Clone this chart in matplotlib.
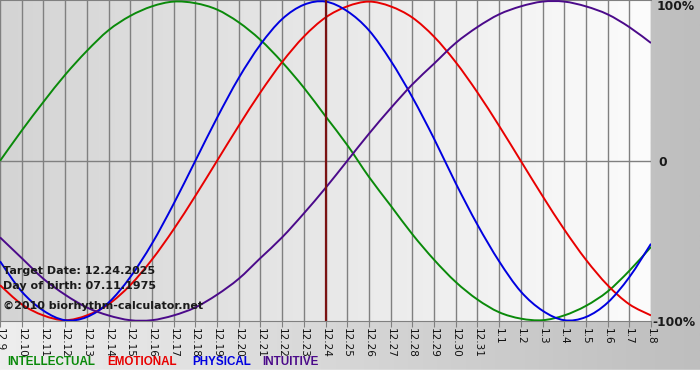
import numpy as np
import matplotlib.pyplot as plt
from matplotlib.colors import LinearSegmentedColormap
from matplotlib.path import Path
from matplotlib.patches import PathPatch, Rectangle

# day labels (month.day)
days = ['12.9', '12.10', '12.11', '12.12', '12.13', '12.14', '12.15', '12.16',
        '12.17', '12.18', '12.19', '12.20', '12.21', '12.22', '12.23', '12.24',
        '12.25', '12.26', '12.27', '12.28', '12.29', '12.30', '12.31',
        '1.1', '1.2', '1.3', '1.4', '1.5', '1.6', '1.7', '1.8']

# values, -1..1
intellectual = [0.00, 0.19, 0.37, 0.54, 0.69, 0.82, 0.91, 0.97, 1.00, 0.99, 0.95,
                0.87, 0.76, 0.62, 0.46, 0.28, 0.10, -0.10, -0.28, -0.46, -0.62,
                -0.76, -0.87, -0.95, -0.99, -1.00, -0.97, -0.91, -0.82, -0.69, -0.54]
emotional = [-0.78, -0.90, -0.97, -1.00, -0.97, -0.90, -0.78, -0.62, -0.43, -0.22, 0.00,
             0.22, 0.43, 0.62, 0.78, 0.90, 0.97, 1.00, 0.97, 0.90, 0.78,
             0.62, 0.43, 0.22, 0.00, -0.22, -0.43, -0.62, -0.78, -0.90, -0.97]
physical = [-0.63, -0.82, -0.94, -1.00, -0.98, -0.89, -0.73, -0.52, -0.27, 0.00, 0.27,
            0.52, 0.73, 0.89, 0.98, 1.00, 0.94, 0.82, 0.63, 0.40, 0.14,
            -0.14, -0.40, -0.63, -0.82, -0.94, -1.00, -0.98, -0.89, -0.73, -0.52]
intuitive = [-0.48, -0.61, -0.74, -0.84, -0.92, -0.97, -1.00, -1.00, -0.97, -0.92, -0.84,
             -0.74, -0.61, -0.48, -0.33, -0.17, 0.00, 0.17, 0.33, 0.48, 0.61,
             0.74, 0.84, 0.92, 0.97, 1.00, 1.00, 0.97, 0.92, 0.84, 0.74]
target_idx = 15

green = '#0a8a0a'
red = '#e80000'
blue = '#0000e0'
purple = '#4b0a8a'


def smooth_path(xs, ys):
    # catmull-rom through the daily points, drawn as bezier segments
    pts = np.column_stack([xs, ys]).astype(float)
    ext = np.vstack([pts[0], pts, pts[-1]])
    verts = [pts[0]]
    codes = [Path.MOVETO]
    for i in range(len(pts) - 1):
        p0, p1, p2, p3 = ext[i], ext[i + 1], ext[i + 2], ext[i + 3]
        verts += [p1 + (p2 - p0) / 6, p2 - (p3 - p1) / 6, p2]
        codes += [Path.CURVE4] * 3
    return Path(verts, codes)


fig = plt.figure(figsize=(7, 3.8), dpi=100)
W, H = 700, 380

# outer gradient background
bg = fig.add_axes([0, 0, 1, 1], zorder=0)
bg.axis('off')
grad = np.linspace(0, 1, 256).reshape(1, -1)
bg.imshow(grad, aspect='auto', extent=[0, 1, 0, 1],
          cmap=LinearSegmentedColormap.from_list('o', ['#eeeeee', '#bebebe']))
bg.add_patch(Rectangle((0, 0), 1, 10 / H, color='white', zorder=2))
bg.set_xlim(0, 1)
bg.set_ylim(0, 1)

ax = fig.add_axes([0, 1 - 321 / H, 651 / W, 321 / H], zorder=1)
ax.imshow(grad, aspect='auto', extent=[0, 1, 0, 1], transform=ax.transAxes, zorder=0,
          cmap=LinearSegmentedColormap.from_list('p', ['#d4d4d4', '#fcfcfc']))

x = np.arange(len(days))
for xi in x:
    ax.axvline(xi, color='#808080', lw=1.0, zorder=1)
ax.axhline(0, color='#808080', lw=1.0, zorder=1)

for vals, col in [(intellectual, green), (emotional, red),
                  (physical, blue), (intuitive, purple)]:
    ax.add_patch(PathPatch(smooth_path(x, vals), facecolor='none', edgecolor=col,
                           lw=1.4, zorder=3))
ax.axvline(target_idx, color='#7a1212', lw=1.6, zorder=4)

ax.set_xlim(0, len(days) - 1)
ax.set_ylim(-1.005, 1.01)
ax.set_xticks(x)
ax.set_xticklabels(days, rotation=270, fontsize=7.5, color='#111111')
ax.tick_params(axis='x', length=4, color='#808080', pad=1)
ax.set_yticks([])
for s in ['left', 'right']:
    ax.spines[s].set_visible(False)
for s in ['top', 'bottom']:
    ax.spines[s].set_color('#808080')

# info text
txt = dict(fontsize=8, fontweight='bold', color='#1a1a1a', transform=fig.transFigure)
fig.text(3 / W, 1 - 271 / H, 'Target Date: 12.24.2025', va='center', **txt)
fig.text(3 / W, 1 - 286 / H, 'Day of birth: 07.11.1975', va='center', **txt)
fig.text(3 / W, 1 - 306 / H, '\u00a92010 biorhythm-calculator.net', va='center', **txt)

# right labels
rt = dict(fontsize=8.8, fontweight='bold', color='#1a1a1a', va='center',
          transform=fig.transFigure)
fig.text(657 / W, 1 - 7 / H, '100%', **rt)
fig.text(658 / W, 1 - 162 / H, '0', **rt)
fig.text(652 / W, 1 - 322 / H, '-100%', **rt)

# legend
leg = dict(fontsize=8.4, fontweight='bold', family='Liberation Sans', va='center',
           transform=fig.transFigure)
fig.text(7 / W, 1 - 362 / H, 'INTELLECTUAL', color=green, **leg)
fig.text(107 / W, 1 - 362 / H, 'EMOTIONAL', color=red, **leg)
fig.text(192 / W, 1 - 362 / H, 'PHYSICAL', color=blue, **leg)
fig.text(262 / W, 1 - 362 / H, 'INTUITIVE', color=purple, **leg)

fig.savefig('out.png', dpi=100)
